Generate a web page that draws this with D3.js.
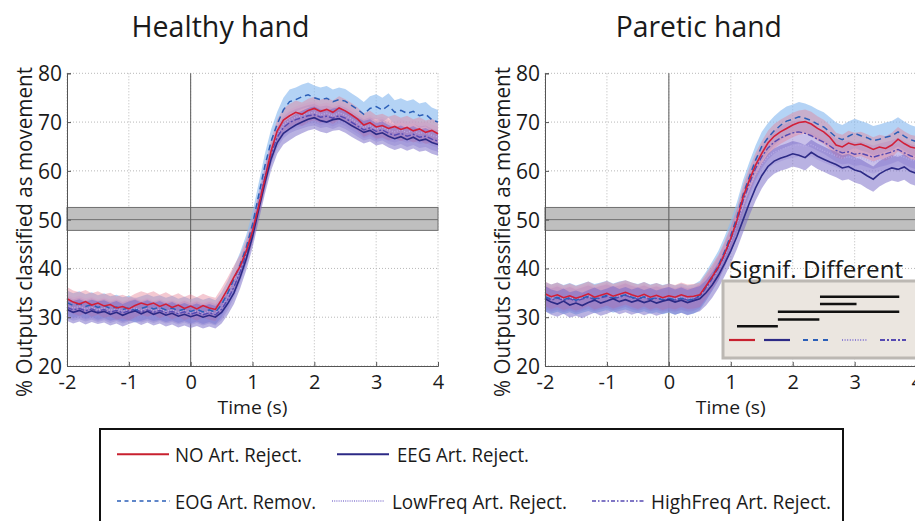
<!DOCTYPE html>
<html><head><meta charset="utf-8">
<script src="https://cdn.jsdelivr.net/npm/d3@7"></script>
<style>
html,body{margin:0;padding:0;background:#fff;}
text{font-family:"Open Sans","Noto Sans",sans-serif;fill:#1a1a1a;}
</style></head>
<body><svg id="c" width="915" height="521"></svg>
<script>
// ---------------- DATA ----------------
const seriesNames = ["NO Art. Reject.", "EEG Art. Reject.", "EOG Art. Remov.", "LowFreq Art. Reject.", "HighFreq Art. Reject."];
const panelTitles = ["Healthy hand", "Paretic hand"];
const xTicks = [-2, -1, 0, 1, 2, 3, 4];
const yTicks = [20, 30, 40, 50, 60, 70, 80];
const chanceBand = [47.8, 50, 52.5];
const timeStart = -2, timeStep = 0.1;

// Healthy hand (mean % outputs), t = -2 .. 4 s every 0.1 s
const hNO = [33.8,33.1,32.7,33.2,32.5,32.9,32.3,32.6,31.9,32.2,31.7,32.4,32.9,32.5,32.9,32.2,32.7,32.0,32.5,31.8,
 32.3,31.7,32.4,31.9,31.6,33.6,35.8,38.2,40.4,43.6,47.6,52.8,58.3,64.0,68.2,70.4,71.3,72.0,71.6,72.4,
 72.8,72.2,72.6,72.0,72.9,72.3,71.5,70.6,69.4,69.9,69.0,69.3,68.7,69.1,68.5,68.9,68.2,68.6,67.9,68.3,67.6];
const hEEG = [31.6,31.0,31.4,30.8,31.3,30.9,31.2,30.6,31.0,30.4,30.9,31.3,30.7,31.2,30.6,31.0,30.4,30.8,30.2,30.6,
 30.1,30.5,30.0,30.4,30.0,31.0,32.8,35.0,38.2,42.0,46.5,52.0,57.5,62.4,65.8,67.7,68.6,69.4,70.0,70.6,
 70.9,70.3,70.0,70.5,70.7,70.1,69.3,68.6,67.9,68.3,67.5,67.8,67.1,66.6,67.0,66.4,66.9,66.2,66.5,65.8,65.4];
const hEOG = [33.0,32.4,32.8,32.2,32.6,32.0,32.4,31.8,32.1,31.6,31.9,31.4,31.8,32.2,31.7,32.0,31.5,31.9,31.3,31.7,
 31.2,31.6,31.1,31.5,31.0,32.6,35.0,37.8,40.8,44.4,49.0,55.0,61.0,66.0,69.6,72.5,74.2,74.6,75.2,75.6,
 75.0,74.6,74.9,74.2,74.6,74.3,73.4,72.6,71.6,72.8,73.2,72.5,73.4,72.0,72.4,71.8,72.2,71.3,71.6,70.5,70.0];
const hLow = [32.4,31.9,32.2,31.7,32.0,31.5,31.9,31.4,31.7,31.2,31.6,31.9,31.4,31.8,31.3,31.7,31.2,31.5,31.0,31.4,
 30.9,31.3,30.8,31.2,30.8,32.0,34.2,36.8,39.8,43.3,47.8,53.4,59.0,63.8,67.4,69.4,70.4,71.0,71.4,71.8,
 72.0,71.5,71.8,71.3,71.9,71.4,70.6,69.8,68.9,69.3,68.6,68.9,68.3,68.0,68.4,67.9,68.3,67.7,67.9,67.3,66.9];
const hHigh = [32.0,31.5,31.8,31.3,31.7,31.2,31.6,31.0,31.4,30.9,31.3,31.6,31.1,31.5,31.0,31.4,30.9,31.2,30.7,31.1,
 30.6,31.0,30.5,30.9,30.5,31.6,33.6,36.2,39.3,43.0,47.4,53.0,58.6,63.4,66.9,68.9,69.9,70.5,70.9,71.3,
 71.5,71.0,71.2,70.8,71.3,70.8,70.0,69.2,68.4,68.8,68.1,68.4,67.7,67.3,67.7,67.1,67.5,66.9,67.1,66.5,66.1];
// Paretic hand
const pNO = [34.8,34.2,34.6,34.0,34.4,33.9,34.3,34.8,34.1,34.5,34.9,34.3,34.7,35.1,34.6,34.2,34.7,34.1,34.5,34.0,
 34.4,34.1,34.6,34.2,34.3,34.6,36.4,38.3,40.3,43.0,46.2,49.9,54.7,58.1,61.2,63.6,65.7,67.1,68.0,68.7,
 69.4,69.9,70.1,69.6,68.7,68.0,66.9,65.3,64.9,65.7,65.3,65.5,65.0,64.4,64.9,64.6,65.3,66.5,65.6,64.9,64.6];
const pEEG = [33.8,33.1,32.7,33.3,32.5,32.9,32.4,33.0,33.5,32.9,33.3,33.8,33.2,33.6,33.1,33.5,33.0,33.4,32.9,33.3,
 33.6,33.1,33.5,33.0,33.4,33.8,35.0,36.6,38.6,41.0,43.6,46.6,50.0,53.4,56.5,59.0,60.9,62.0,62.6,63.0,
 63.5,63.2,62.7,63.8,63.0,62.4,61.8,61.3,60.6,60.9,60.2,59.8,59.0,58.3,59.4,60.1,60.6,60.3,60.8,59.9,59.5];
const pEOG = [34.2,33.7,34.1,33.6,34.0,33.5,33.9,34.3,33.8,34.1,34.5,33.9,34.3,34.6,34.1,33.8,34.2,33.7,34.0,33.6,
 33.9,33.5,33.9,33.5,33.7,34.5,36.3,38.4,40.6,43.5,46.8,50.6,55.2,58.8,62.2,65.0,66.8,68.2,69.3,70.2,
 70.6,71.1,70.8,70.3,69.6,69.0,68.0,66.9,66.4,67.1,67.7,67.2,66.8,66.2,66.5,66.9,67.2,68.0,67.1,66.4,66.0];
const pLow = [34.3,33.8,34.2,33.7,34.0,33.6,34.0,34.4,33.8,34.2,34.5,34.0,34.4,34.7,34.2,33.9,34.3,33.8,34.1,33.7,
 34.0,33.7,34.1,33.7,33.9,34.4,35.9,37.8,39.9,42.5,45.5,49.0,53.0,56.4,59.2,61.4,62.9,63.8,64.3,64.8,
 65.1,65.3,65.0,65.4,64.7,64.1,63.6,63.1,62.6,62.9,62.4,62.7,62.2,61.8,62.3,62.6,62.9,63.2,62.8,62.3,62.0];
const pHigh = [34.0,33.5,33.9,33.4,33.8,33.3,33.7,34.1,33.6,34.0,34.3,33.8,34.1,34.5,34.0,33.7,34.1,33.6,33.9,33.5,
 33.8,33.5,33.9,33.5,33.7,34.3,36.0,37.9,40.1,42.8,46.0,49.6,53.9,57.4,60.5,62.9,64.7,65.9,66.7,67.3,
 67.8,68.0,67.7,67.2,66.5,65.9,65.1,64.2,63.7,63.9,63.4,63.6,63.2,62.8,63.2,63.5,63.9,64.4,63.7,63.1,62.7];
// standard-error half widths of the shaded bands, per series
const healthySE = [2.4, 2.3, 2.5, 2.2, 2.2];
const pareticSE = [2.5, 2.6, 3.0, 2.4, 2.4];
// significance bars (time spans, s) in the paretic inset
const sigStart = [2.44, 2.44, 1.76, 1.76, 1.10];
const sigEnd   = [3.72, 3.03, 3.72, 2.43, 1.76];

// ---------------- STYLE ----------------
const styles = [
  {stroke:"#d21f38", dash:null,       w:1.6, band:"#e47f93", bo:0.42},
  {stroke:"#2c2a86", dash:null,       w:1.6, band:"#7466c6", bo:0.50},
  {stroke:"#2b5fb8", dash:"6,4",      w:1.5, band:"#8cbbf0", bo:0.65},
  {stroke:"#b6a9e6", dash:"1,1.6",    w:1.4, band:"#c0b3e8", bo:0.40},
  {stroke:"#5549b2", dash:"6,2,2,2",  w:1.4, band:"#9b8ed8", bo:0.38}
];
const legendStroke = ["#c8202f","#2c2a86","#2b5fb8","#8f82d4","#5549b2"];

const svg = d3.select("#c");
const panels = [
  {data:[hNO,hEEG,hEOG,hLow,hHigh], se:healthySE, x0:67, x1:438},
  {data:[pNO,pEEG,pEOG,pLow,pHigh], se:pareticSE, x0:545, x1:916.6}
];
const yT = 73.3, yB = 366;

panels.forEach((p, pi) => {
  const x = d3.scaleLinear().domain([-2, 4]).range([p.x0, p.x1]);
  const y = d3.scaleLinear().domain([20, 80]).range([yB, yT]);
  const g = svg.append("g");
  const cx = (p.x0 + p.x1) / 2;

  // title
  g.append("text").attr("x", cx - 32).attr("y", 37).attr("text-anchor", "middle")
    .attr("font-size", 29).attr("textLength", pi ? 166 : 178).attr("lengthAdjust","spacingAndGlyphs")
    .text(panelTitles[pi]);

  // grid
  g.append("g").selectAll("line").data(xTicks).join("line")
    .attr("x1", d => x(d)).attr("x2", d => x(d)).attr("y1", yT).attr("y2", yB)
    .attr("stroke", "#b8b8b8").attr("stroke-width", 1).attr("stroke-dasharray", "1,2");
  g.append("g").selectAll("line").data(yTicks).join("line")
    .attr("x1", p.x0).attr("x2", p.x1).attr("y1", d => y(d)).attr("y2", d => y(d))
    .attr("stroke", "#b8b8b8").attr("stroke-width", 1).attr("stroke-dasharray", "1,2");

  // chance band
  g.append("rect").attr("x", p.x0).attr("width", p.x1 - p.x0)
    .attr("y", y(chanceBand[2])).attr("height", y(chanceBand[0]) - y(chanceBand[2]))
    .attr("fill", "#bfbfbf").attr("stroke", "#6f6f6f").attr("stroke-width", 1);
  g.append("line").attr("x1", p.x0).attr("x2", p.x1).attr("y1", y(chanceBand[1])).attr("y2", y(chanceBand[1]))
    .attr("stroke", "#6f6f6f").attr("stroke-width", 1);
  // movement onset line
  g.append("line").attr("x1", x(0)).attr("x2", x(0)).attr("y1", yT).attr("y2", yB)
    .attr("stroke", "#5a5a5a").attr("stroke-width", 1);

  const tt = i => timeStart + i * timeStep;
  // bands
  const bandOrder = [2, 3, 4, 0, 1];
  bandOrder.forEach(si => {
    const vals = p.data[si], se = p.se[si];
    const area = d3.area().x((d, i) => x(tt(i))).y0(d => y(d - se)).y1(d => y(d + se));
    g.append("path").datum(vals).attr("d", area)
      .attr("fill", styles[si].band).attr("fill-opacity", styles[si].bo);
  });
  // lines
  const lineOrder = [3, 4, 2, 1, 0];
  lineOrder.forEach(si => {
    const line = d3.line().x((d, i) => x(tt(i))).y(d => y(d));
    g.append("path").datum(p.data[si]).attr("d", line).attr("fill", "none")
      .attr("stroke", styles[si].stroke).attr("stroke-width", styles[si].w)
      .attr("stroke-dasharray", styles[si].dash);
  });

  // axes
  const ax = g.append("g").attr("transform", `translate(0,${yB})`)
    .call(d3.axisBottom(x).tickValues(xTicks).tickSize(-4).tickFormat(d3.format("d")));
  ax.select(".domain").attr("stroke", "#555");
  ax.selectAll(".tick line").attr("stroke", "#555");
  ax.selectAll("text").attr("y", 23).attr("dy", 0).attr("font-size", 20)
    .attr("font-family", '"Open Sans",sans-serif').attr("fill", "#1a1a1a")
    .text(d => d < 0 ? "-" + Math.abs(d) : d);
  const ay = g.append("g").attr("transform", `translate(${p.x0},0)`)
    .call(d3.axisLeft(y).tickValues(yTicks).tickSize(-4).tickPadding(5));
  ay.select(".domain").attr("stroke", "#555");
  ay.selectAll(".tick line").attr("stroke", "#555");
  ay.selectAll("text").attr("font-size", 21).attr("dy", "0.36em")
    .attr("font-family", '"Open Sans",sans-serif').attr("fill", "#1a1a1a");

  // axis titles
  g.append("text").attr("x", cx).attr("y", 414).attr("text-anchor", "middle")
    .attr("font-size", 19).attr("textLength", 70).attr("lengthAdjust","spacingAndGlyphs").text("Time (s)");
  g.append("text").attr("transform", `translate(${p.x0 - 35},232) rotate(-90)`)
    .attr("text-anchor", "middle").attr("font-size", 21)
    .attr("textLength", 330).attr("lengthAdjust","spacingAndGlyphs")
    .text("% Outputs classified as movement");

  // significance inset (paretic)
  if (pi === 1) {
    const ig = svg.append("g");
    ig.append("rect").attr("x", 723).attr("y", 281).attr("width", 220).attr("height", 77)
      .attr("fill", "#ebe6e0").attr("stroke", "#bcb8b3").attr("stroke-width", 3);
    ig.append("text").attr("x", 729).attr("y", 278).attr("font-size", 23)
      .attr("textLength", 174).attr("lengthAdjust","spacingAndGlyphs").text("Signif. Different");
    const rowY = [296.7, 304, 311.7, 319.5, 326.3];
    sigStart.forEach((s, i) => {
      ig.append("line").attr("x1", x(s)).attr("x2", x(sigEnd[i])).attr("y1", rowY[i]).attr("y2", rowY[i])
        .attr("stroke", "#111").attr("stroke-width", 2.6);
    });
    const swX = [729, 764, 803, 842, 880];
    seriesNames.forEach((n, i) => {
      ig.append("line").attr("x1", swX[i]).attr("x2", swX[i] + 26).attr("y1", 340).attr("y2", 340)
        .attr("stroke", legendStroke[i]).attr("stroke-width", 2.2)
        .attr("stroke-dasharray", i === 2 ? "5,5" : i === 3 ? "1,1.6" : i === 4 ? "5,2,2,2" : null);
    });
  }
});

// ---------------- LEGEND ----------------
const lg = svg.append("g");
lg.append("rect").attr("x", 100).attr("y", 429).attr("width", 743).attr("height", 110)
  .attr("fill", "#fff").attr("stroke", "#111").attr("stroke-width", 2);
const legPos = [
  {lx:117, ly:454.3, tx:175, ty:461.5, len:127},
  {lx:337, ly:454.3, tx:397, ty:461.5, len:132},
  {lx:117, ly:501,   tx:175, ty:509,   len:141},
  {lx:332, ly:501,   tx:392, ty:509,   len:175},
  {lx:592, ly:501,   tx:651, ty:509,   len:180}
];
seriesNames.forEach((n, i) => {
  const L = legPos[i];
  const lw = i < 2 ? 52 : (i === 2 ? 53 : 52);
  lg.append("line").attr("x1", L.lx).attr("x2", L.lx + lw).attr("y1", L.ly).attr("y2", L.ly)
    .attr("stroke", legendStroke[i]).attr("stroke-width", i < 2 ? 2 : 1.6)
    .attr("stroke-dasharray", i === 2 ? "4,3.5" : i === 3 ? "1,1.2" : i === 4 ? "4,2,1.5,2" : null);
  lg.append("text").attr("x", L.tx).attr("y", L.ty).attr("font-size", 20)
    .attr("textLength", L.len).attr("lengthAdjust","spacingAndGlyphs").text(n);
});
</script></body></html>
